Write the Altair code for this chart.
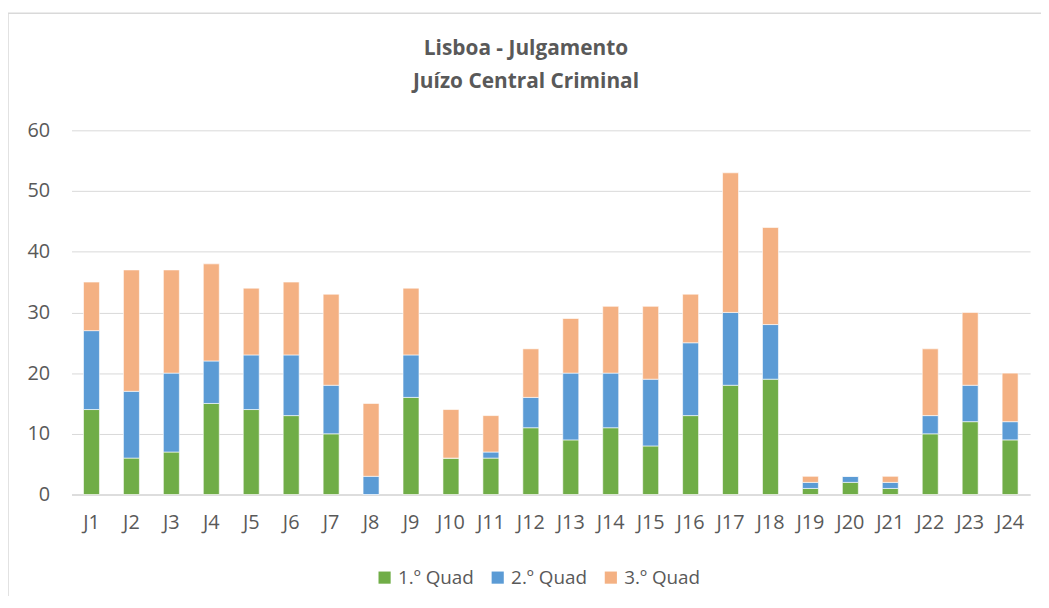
import altair as alt
import pandas as pd

categories = [f"J{i}" for i in range(1, 25)]
q1 = [14, 6, 7, 15, 14, 13, 10, 0, 16, 6, 6, 11, 9, 11, 8, 13, 18, 19, 1, 2, 1, 10, 12, 9]
q2 = [13, 11, 13, 7, 9, 10, 8, 3, 7, 0, 1, 5, 11, 9, 11, 12, 12, 9, 1, 1, 1, 3, 6, 3]
q3 = [8, 20, 17, 16, 11, 12, 15, 12, 11, 8, 6, 8, 9, 11, 12, 8, 23, 16, 1, 0, 1, 11, 12, 8]
series = ["1.º Quad", "2.º Quad", "3.º Quad"]
colors = ["#70AD47", "#5B9BD5", "#F4B183"]
title_lines = ["Lisboa - Julgamento", "Juízo Central Criminal"]

rows = []
for i, c in enumerate(categories):
    for k, (s, vals) in enumerate(zip(series, [q1, q2, q3])):
        rows.append({"cat": c, "serie": s, "valor": vals[i], "ordem": k})
df = pd.DataFrame(rows)

FONT = "Open Sans"
GREY = "#595959"
FS = 20

bars = alt.Chart(df).mark_bar(stroke="white", strokeWidth=0.6).encode(
    x=alt.X("cat:N", sort=categories, title=None,
            scale=alt.Scale(paddingInner=0.6, paddingOuter=0.3),
            axis=alt.Axis(labelAngle=0, ticks=False, domainColor="#D9D9D9", domainWidth=1.5,
                          labelPadding=18, labelFontSize=FS, labelColor=GREY, labelFont=FONT, grid=False)),
    y=alt.Y("sum(valor):Q", title=None,
            scale=alt.Scale(domain=[0, 60]),
            axis=alt.Axis(values=[0, 10, 20, 30, 40, 50, 60], domain=False, ticks=False,
                          gridColor="#D9D9D9", gridWidth=1, labelPadding=22,
                          labelFontSize=FS, labelColor=GREY, labelFont=FONT)),
    color=alt.Color("serie:N", sort=series, scale=alt.Scale(domain=series, range=colors),
                    legend=alt.Legend(title=None, orient="none", direction="horizontal",
                                      legendX=306, legendY=441, symbolType="square",
                                      symbolSize=150, symbolStrokeWidth=0, labelFontSize=19,
                                      labelColor=GREY, labelFont=FONT, columnPadding=14,
                                      labelOffset=4)),
    order=alt.Order("ordem:Q", sort="ascending"),
)

border = alt.Chart(pd.DataFrame({"a": [0]})).mark_rect(
    fill=None, stroke="#D9D9D9", strokeWidth=1.5
).encode(x=alt.value(-64), x2=alt.value(1000), y=alt.value(-118), y2=alt.value(500))

tdf = pd.DataFrame({"t": title_lines, "line": [0, 1]})
title1 = alt.Chart(tdf[tdf.line == 0]).mark_text(
    font=FONT, fontSize=21, fontWeight="bold", color=GREY, align="center", baseline="middle"
).encode(text="t:N", x=alt.value(458), y=alt.value(-82))
title2 = alt.Chart(tdf[tdf.line == 1]).mark_text(
    font=FONT, fontSize=21, fontWeight="bold", color=GREY, align="center", baseline="middle"
).encode(text="t:N", x=alt.value(458), y=alt.value(-49))

chart = alt.layer(border, bars, title1, title2).properties(
    width=966, height=367,
    padding={"left": 64, "top": 121, "right": 11, "bottom": 100},
    autosize=alt.AutoSizeParams(type="none"),
).configure_view(stroke=None)

chart.save("out.html", embed_options={"renderer": "svg", "actions": False})
